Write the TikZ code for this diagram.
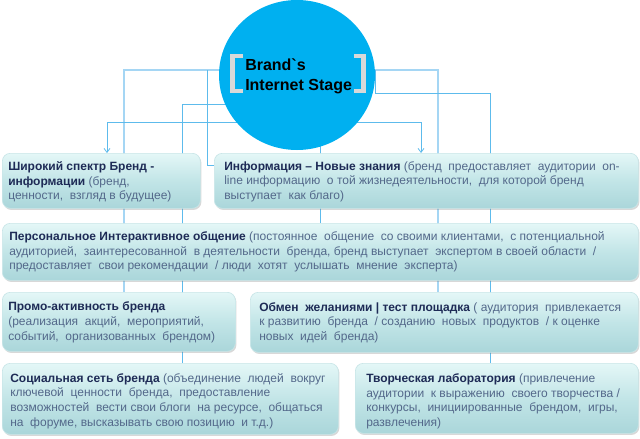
\documentclass[tikz,border=0pt]{standalone}
\usepackage{fontspec}
\setmainfont{Liberation Sans}
\usetikzlibrary{shapes.geometric,arrows.meta,shadows,calc}
\definecolor{hubc}{HTML}{00B0F0}
\definecolor{connc}{HTML}{5DBBEC}
\definecolor{connl}{HTML}{A5D6F4}
\definecolor{headc}{HTML}{1E2B56}
\definecolor{bodyc}{HTML}{53688A}
\definecolor{btop}{HTML}{E4F7F7}
\definecolor{bmid}{HTML}{C2E5E7}
\definecolor{bbot}{HTML}{AAD6DA}
\definecolor{bedge}{HTML}{C9E6E8}
\definecolor{brk}{HTML}{D9D9D9}
\newcommand{\hd}[1]{{\bfseries\color{headc}#1}}
\begin{document}
\begin{tikzpicture}[x=0.75pt,y=-0.75pt,
 connector/.style={draw=connc, line width=0.6pt},
 connlight/.style={draw=connl, line width=1pt},
 arrowtip/.style={-{Straight Barb[length=3pt,width=4.5pt]}},
 card/.style={rounded corners=6pt, draw=bedge, line width=0.5pt, top color=btop, bottom color=bbot, middle color=bmid,
   drop shadow={opacity=0.3, shadow xshift=0.8pt, shadow yshift=-1.2pt}, inner sep=0pt, anchor=north west},
 txt/.style={anchor=west, align=left, inner sep=0pt, font=\fontsize{9}{11}\selectfont, text=bodyc}
]
\fill[white] (0,0) rectangle (640,439);
\useasboundingbox (0,0) rectangle (640,439);

% boxes (positions only, drawn later)
\path
  (2,153) coordinate (p1)
  (214,153) coordinate (p2)
  (2,223) coordinate (p3)
  (2,292) coordinate (p4)
  (250,292) coordinate (p5)
  (2,363) coordinate (p6)
  (355,363) coordinate (p7);

% hub
\path (297,75) coordinate (hubpos);

% connectors
\coordinate (j1) at (207,70);
\coordinate (j2) at (375,70);
\draw[connlight] (hubpos |- 0,70) -| (124,292);
\draw[connector] (j1) |- (214,165);
\draw[connector] (hubpos |- 0,104) -| (182,363);
\draw[connector,arrowtip] (hubpos |- 0,122) -| (107,153);
\draw[connector,arrowtip] (hubpos |- 0,122) -| (421,153);
\draw[connlight] (hubpos |- 0,70) -| (438,292);
\draw[connector] (j2) -- (375,93) -| (490,363);
\draw[connector] (320,75) -- (320,223);

\node[ellipse, fill=hubc, minimum width=117pt, minimum height=112.5pt, inner sep=0pt] (hub) at (hubpos) {};
\draw[brk, line width=3.5pt] (243,56) -- (232.5,56) -- (232.5,91) -- (243,91);
\draw[brk, line width=3.5pt] (354,56) -- (363.5,56) -- (363.5,91) -- (354,91);
\node[anchor=west, align=left, inner sep=0pt, font=\fontsize{12}{15}\selectfont\bfseries] (title) at (245,76) {Brand\textasciigrave s\\Internet Stage};

\node[card, minimum width=148.5pt, minimum height=41.25pt] (b1) at (p1) {};
\node[card, minimum width=318pt, minimum height=41.25pt] (b2) at (p2) {};
\node[card, minimum width=477pt, minimum height=42.75pt] (b3) at (p3) {};
\node[card, minimum width=174.75pt, minimum height=44.25pt] (b4) at (p4) {};
\node[card, minimum width=291pt, minimum height=45pt] (b5) at (p5) {};
\node[card, minimum width=252pt, minimum height=53.25pt] (b6) at (p6) {};
\node[card, minimum width=212.25pt, minimum height=52.5pt] (b7) at (p7) {};

\node[txt] (t1) at ($(b1.west)+(6,1)$) {\hd{Широкий спектр Бренд -}\\\hd{информации} (бренд,\\ценности,\ \ взгляд в будущее)};
\node[txt] (t2) at ($(b2.west)+(10,1)$) {\hd{Информация – Новые знания} (бренд\ \ предоставляет\ \ аудитории\ \ on-\\line информацию\ \ о той жизнедеятельности,\ \ для которой бренд\\выступает\ \ как благо)};
\node[txt] (t3) at ($(b3.west)+(7,0)$) {\hd{Персональное Интерактивное общение} (постоянное\ \ общение\ \ со своими клиентами,\ \ с потенциальной\\аудиторией,\ \ заинтересованной\ \ в деятельности\ \ бренда, бренд выступает\ \ экспертом в своей области\ \ /\\предоставляет\ \ свои рекомендации\ \ / люди\ \ хотят\ \ услышать\ \ мнение\ \ эксперта)};
\node[txt] (t4) at ($(b4.west)+(6,0.5)$) {\hd{Промо-активность бренда}\\(реализация\ \ акций,\ \ мероприятий,\\событий,\ \ организованных\ \ брендом)};
\node[txt] (t5) at ($(b5.west)+(9,0.5)$) {\hd{Обмен\ \ желаниями | тест площадка} (\ аудитория\ \ привлекается\\к развитию\ \ бренда\ \ /\ созданию\ \ новых\ \ продуктов\ \ /\ к оценке\\новых\ \ идей\ \ бренда)};
\node[txt] (t6) at ($(b6.west)+(8,2)$) {\hd{Социальная сеть бренда} (объединение\ \ людей\ \ вокруг\\ключевой\ \ ценности\ \ бренда,\ \ предоставление\\возможностей\ \ вести\ свои\ блоги\ \ на\ ресурсе,\ \ общаться\\на\ \ форуме,\ высказывать\ свою\ позицию\ \ и\ т.д.)};
\node[txt] (t7) at ($(b7.west)+(11,3)$) {\hd{Творческая лаборатория} (привлечение\\аудитории\ \ к выражению\ \ своего творчества\ /\\конкурсы,\ \ инициированные\ \ брендом,\ \ игры,\\развлечения)};
\end{tikzpicture}
\end{document}
